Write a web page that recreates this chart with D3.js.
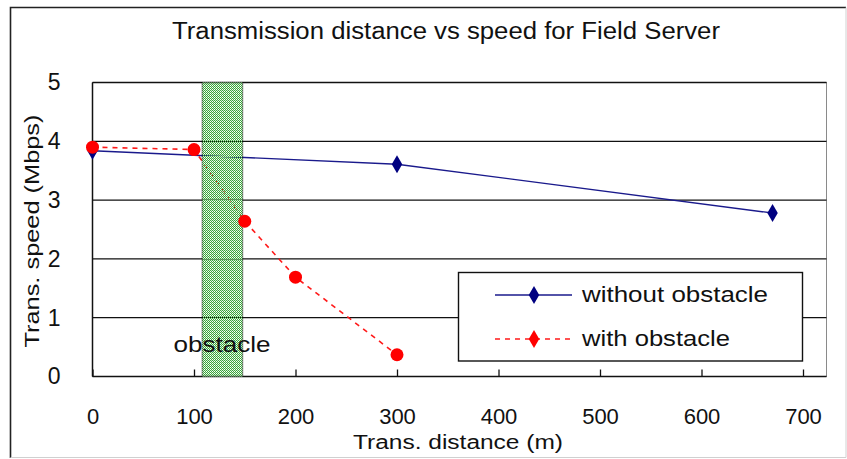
<!DOCTYPE html>
<html>
<head>
<meta charset="utf-8">
<script src="https://cdn.jsdelivr.net/npm/d3@7"></script>
<style>
  body { margin: 0; background: #fff; }
  svg { display: block; font-family: "Liberation Sans", Arial, sans-serif; }
</style>
</head>
<body>
<svg id="chart" width="847" height="459"></svg>
<script>
// values
const xTicks = [0, 100, 200, 300, 400, 500, 600, 700];
const yTicks = [0, 1, 2, 3, 4, 5];
const withoutDist = [0, 300, 670];
const withoutSpeed = [3.84, 3.61, 2.78];
const withDist = [0, 100, 150, 200, 300];
const withSpeed = [3.9, 3.86, 2.64, 1.69, 0.37];
const obstacleRange = [108, 148];

const svg = d3.select('#chart');
const x = d3.scaleLinear().domain([0, 700]).range([92.5, 803]);
const y = d3.scaleLinear().domain([0, 5]).range([376.5, 82.5]);
const plotRight = 826.5;

// outer frame
svg.append('rect').attr('x', 0).attr('y', 0).attr('width', 847).attr('height', 459).attr('fill', '#fff');
svg.append('path').attr('d', 'M10.5,458 V7.5 H846').attr('fill', 'none').attr('stroke', '#222').attr('stroke-width', 1.6);
svg.append('path').attr('d', 'M846,7.5 V457.5 H10.5').attr('fill', 'none').attr('stroke', '#d0d0d0').attr('stroke-width', 1);

// dotted fill for the obstacle band
const pat = svg.append('defs').append('pattern')
  .attr('id', 'dots').attr('width', 2).attr('height', 2).attr('patternUnits', 'userSpaceOnUse');
pat.append('rect').attr('x', 0).attr('y', 0).attr('width', 1).attr('height', 1).attr('fill', '#3aa43a');
pat.append('rect').attr('x', 1).attr('y', 1).attr('width', 1).attr('height', 1).attr('fill', '#3aa43a');
pat.append('rect').attr('x', 1).attr('y', 0).attr('width', 1).attr('height', 1).attr('fill', '#cdeccd');

svg.append('text').attr('x', 446).attr('y', 39).attr('text-anchor', 'middle')
  .attr('font-size', 23).attr('fill', '#111')
  .attr('textLength', 548).attr('lengthAdjust', 'spacingAndGlyphs')
  .text('Transmission distance vs speed for Field Server');

// plot area border (right/top grey)
svg.append('rect').attr('x', x(0)).attr('y', y(5)).attr('width', plotRight - x(0)).attr('height', y(0) - y(5))
  .attr('fill', 'none').attr('stroke', '#8a8a8a');

// horizontal grid
svg.append('g').selectAll('line').data(yTicks.filter(d => d > 0)).join('line')
  .attr('x1', x(0)).attr('x2', plotRight)
  .attr('y1', d => y(d)).attr('y2', d => y(d))
  .attr('stroke', '#111').attr('stroke-width', 1.3);

// axes
const xAxis = svg.append('g').attr('transform', `translate(0,${y(0)})`)
  .call(d3.axisBottom(x).tickValues(xTicks).tickSizeInner(-7).tickSizeOuter(0).tickPadding(32));
xAxis.select('.domain').remove();
xAxis.selectAll('line').attr('stroke', '#111').attr('stroke-width', 1.3);
xAxis.selectAll('text').attr('font-size', 22).attr('font-family', null).attr('fill', '#111');

const yAxis = svg.append('g').attr('transform', `translate(${x(0)},0)`)
  .call(d3.axisLeft(y).tickValues(yTicks).tickFormat(d3.format('d')).tickSize(0).tickPadding(32));
yAxis.select('.domain').remove();
yAxis.selectAll('text').attr('font-size', 23).attr('font-family', null).attr('fill', '#111');

svg.append('line').attr('x1', x(0)).attr('x2', plotRight).attr('y1', y(0)).attr('y2', y(0))
  .attr('stroke', '#111').attr('stroke-width', 1.5);
svg.append('line').attr('x1', x(0)).attr('x2', x(0)).attr('y1', y(0)).attr('y2', y(5))
  .attr('stroke', '#111').attr('stroke-width', 1.5);

// axis titles
svg.append('text').attr('x', 458).attr('y', 449).attr('text-anchor', 'middle')
  .attr('font-size', 20).attr('fill', '#111')
  .attr('textLength', 210).attr('lengthAdjust', 'spacingAndGlyphs').text('Trans. distance (m)');
svg.append('text').attr('transform', 'translate(39,231) rotate(-90)').attr('text-anchor', 'middle')
  .attr('font-size', 21).attr('fill', '#111')
  .attr('textLength', 233).attr('lengthAdjust', 'spacingAndGlyphs').text('Trans. speed (Mbps)');

// series lines
const line = d3.line().x(d => x(d[0])).y(d => y(d[1]));
const withoutPts = withoutDist.map((d, i) => [d, withoutSpeed[i]]);
const withPts = withDist.map((d, i) => [d, withSpeed[i]]);

svg.append('path').datum(withoutPts).attr('d', line)
  .attr('fill', 'none').attr('stroke', '#1a1a8c').attr('stroke-width', 1.4);
svg.append('path').datum(withPts).attr('d', line)
  .attr('fill', 'none').attr('stroke', '#ff1a1a').attr('stroke-width', 1.6).attr('stroke-dasharray', '5,5');

// obstacle band sits over the lines, as in the reference
svg.append('rect').attr('x', x(obstacleRange[0])).attr('y', y(5))
  .attr('width', x(obstacleRange[1]) - x(obstacleRange[0])).attr('height', y(0) - y(5))
  .attr('fill', 'url(#dots)');
svg.append('g').selectAll('line').data(obstacleRange).join('line')
  .attr('x1', d => x(d)).attr('x2', d => x(d)).attr('y1', y(5)).attr('y2', y(0))
  .attr('stroke', '#111').attr('stroke-dasharray', '1,1');

svg.append('text').attr('x', 222).attr('y', 352).attr('text-anchor', 'middle')
  .attr('font-size', 22).attr('fill', '#111')
  .attr('textLength', 97).attr('lengthAdjust', 'spacingAndGlyphs').text('obstacle');

// markers
const diamond = d3.symbol().type(d3.symbolDiamond).size(95);
svg.append('g').selectAll('path').data(withoutPts).join('path')
  .attr('transform', d => `translate(${x(d[0])},${y(d[1])})`)
  .attr('d', diamond).attr('fill', '#000080');
svg.append('g').selectAll('circle').data(withPts).join('circle')
  .attr('cx', d => x(d[0])).attr('cy', d => y(d[1])).attr('r', 6.5).attr('fill', '#ff0000');

// legend
const lg = svg.append('g');
lg.append('rect').attr('x', 458.5).attr('y', 272.5).attr('width', 344).attr('height', 88.5)
  .attr('fill', '#fff').attr('stroke', '#111').attr('stroke-width', 1.4);
const legendRows = [
  { label: 'without obstacle', color: '#1a1a8c', fill: '#000080', dash: null, y: 295, len: 186 },
  { label: 'with obstacle', color: '#ff1a1a', fill: '#ff0000', dash: '5,5', y: 339, len: 148 }
];
legendRows.forEach(r => {
  lg.append('line').attr('x1', 495).attr('x2', 572).attr('y1', r.y).attr('y2', r.y)
    .attr('stroke', r.color).attr('stroke-width', 1.5).attr('stroke-dasharray', r.dash);
  lg.append('path').attr('transform', `translate(534,${r.y})`).attr('d', diamond).attr('fill', r.fill);
  lg.append('text').attr('x', 582).attr('y', r.y + 7).attr('font-size', 22).attr('fill', '#111')
    .attr('textLength', r.len).attr('lengthAdjust', 'spacingAndGlyphs').text(r.label);
});
</script>
</body>
</html>
